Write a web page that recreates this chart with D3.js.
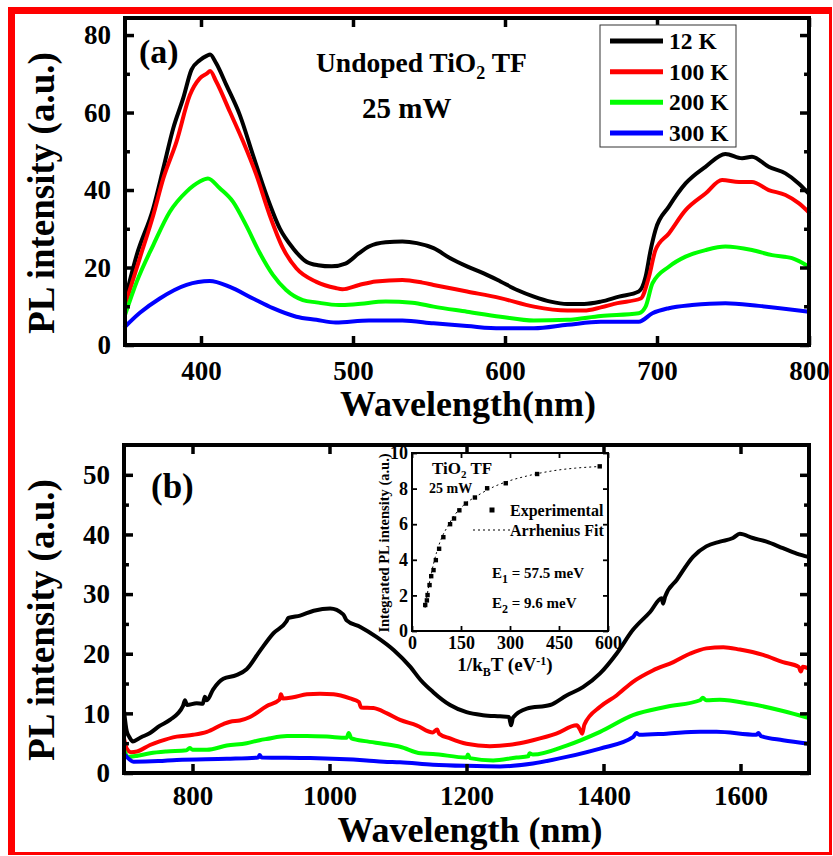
<!DOCTYPE html>
<html><head><meta charset="utf-8">
<script src="https://cdn.jsdelivr.net/npm/d3@7"></script>
<style>
body{margin:0;background:#fff}
text{font-family:"Liberation Serif","Times New Roman",serif;font-weight:bold;fill:#000}
</style>
</head><body>
<svg id="chart" width="833" height="856"></svg>
<script>
// ---------------- DATA ----------------
const seriesNames = ["12 K", "100 K", "200 K", "300 K"];
const seriesColors = ["#000000", "#ff0000", "#00ff00", "#0000ff"];

// Panel (a): [wavelength nm, PL intensity a.u.]
const a12K = [[350,11.6],[357.7,23.2],[368.6,35.3],[375.2,45.6],[381.7,55.9],[388.3,63.7],[393.7,71],[399.2,73.5],[404,74.7],[406,75],[410,72.7],[416.8,67],[425.5,59.4],[434.2,49],[443,38.7],[451.8,30.1],[460.5,25],[469.3,21.5],[477,20.6],[486,20.3],[495,21],[504,23.7],[510.5,25.4],[521.5,26.5],[532.5,26.7],[542,26.3],[553,25],[564,22.4],[575,20.3],[586,18.5],[597,16.4],[608,14.2],[619,12.5],[630,11.2],[641,10.6],[652,10.6],[663,11.2],[675,12.5],[688,13.8],[692.5,17.6],[695.8,24.5],[699,29.7],[707.8,35.7],[718.8,41.7],[731.9,46],[745,49.3],[756,48.2],[762.5,48.6],[773.5,46],[784.5,44.3],[793.2,41.7],[800,39]];
const a100K = [[350,10.3],[359.8,22.5],[368.6,33.5],[375.2,43],[383.9,52.5],[392.7,64.5],[399.2,68.8],[404,70.1],[406,70.7],[410,68],[419,60.2],[427.7,52.5],[436.4,43.9],[445.2,33.5],[453.9,25],[462.7,19.8],[475.9,16.3],[488.6,14.7],[493,14.4],[504,15.5],[515,16.4],[532.5,16.8],[545.7,16.1],[553,15.5],[575,13.8],[597,12.1],[619,9.9],[641,8.9],[652,8.9],[663,9.7],[674,10.8],[689.3,12],[694.7,17.6],[699,24.5],[707.8,28.8],[718.8,34.8],[731.9,39.1],[742.8,42.6],[754,42.1],[762.5,42.1],[773.5,40],[784.5,38.7],[793.2,36.6],[800,34.2]];
const a200K = [[350,7.7],[357.7,16.3],[368.6,25.8],[379.5,34.4],[390.5,39.6],[399.2,42.2],[404.6,43],[412.2,40.5],[421,37],[429.8,30.8],[438.6,23.8],[447.3,18.1],[456,14.2],[467,11.6],[475.9,11],[490.8,10.3],[501.8,10.5],[521.5,11.2],[539,10.9],[553,9.9],[575,8.6],[597,7.3],[619,6.3],[641,6.5],[663,7.5],[688,8.2],[692.5,9.9],[697,15.9],[707.8,20.2],[718.8,22.8],[731.9,24.5],[745,25.4],[762.5,24.5],[775.7,23.2],[788.8,22.4],[800,20.2]];
const a300K = [[350,4.7],[359.8,8.3],[372.9,12.0],[390.5,15.5],[405.7,16.5],[419,15],[434.2,12],[447.3,9.5],[462.7,7.3],[475.9,6.5],[488.6,5.8],[510.5,6.3],[532.5,6.3],[553,5.6],[575,4.9],[597,4.3],[619,4.3],[641,5.2],[663,6],[688,6.0],[697,8.2],[707.8,9.5],[723,10.3],[745,10.8],[767,10.1],[800,8.6]];

// Panel (b)
const b12K = [[700,10.5],[704,7],[708,6],[713,5.3],[725,6],[738,6.7],[752,7.9],[767,8.9],[786,11.2],[789,12.2],[792,11.4],[806,11.7],[815,11.6],[818,12.8],[821,12.2],[830,14.0],[845,15.8],[864,16.4],[879,17.4],[898,20.4],[918,23.4],[937,25.4],[940,26.0],[957,26.4],[977,27.2],[1001,27.6],[1020,26.6],[1025,25.6],[1045,24.5],[1069,22.8],[1094,20.6],[1118,17.8],[1133,15.6],[1151,13.6],[1176,11.4],[1200,10.2],[1224,9.7],[1249,9.5],[1262,9.4],[1265,8.0],[1268,9.3],[1288,10.8],[1322,11.4],[1346,13],[1370,14.4],[1395,16.7],[1419,20],[1443,24],[1468,27],[1485,29.3],[1487,28.4],[1490,29.6],[1507,32.4],[1531,36.3],[1550,38],[1570,38.8],[1589,39.4],[1599,40.1],[1618,39.4],[1638,38.8],[1662,37.7],[1682,36.8],[1700,36.2]];
const b100K = [[700,5.8],[704,4.1],[710,3.5],[719,3.6],[738,4.7],[752,5.3],[777,6.1],[801,6.4],[821,6.9],[845,8.2],[855,8.6],[869,8.8],[884,9.4],[908,11.2],[927,12.3],[929,13.2],[932,12.5],[947,12.7],[967,13.2],[986,13.3],[1006,13.2],[1030,12.5],[1043,11.9],[1046,11.0],[1064,10.9],[1084,10],[1103,8.9],[1127,8],[1151,6.8],[1157,7.3],[1160,6.6],[1176,5.8],[1200,4.9],[1234,4.5],[1273,4.9],[1297,5.5],[1331,6.6],[1361,8],[1366,7.2],[1369,6.6],[1372,8.1],[1395,11.1],[1419,13],[1443,15.3],[1472,17.2],[1502,18.6],[1526,20],[1550,20.9],[1575,21.1],[1599,20.7],[1633,19.8],[1662,18.6],[1685,17.8],[1688,17.0],[1691,17.8],[1700,17.5]];
const b200K = [[700,3.9],[706,2.7],[720,2.9],[738,3.3],[762,3.6],[791,3.8],[796,4.2],[800,3.9],[821,3.9],[850,4.6],[879,5.0],[898,5.5],[908,5.7],[938,6.2],[967,6.2],[996,6.1],[1025,5.9],[1028,6.7],[1032,5.8],[1055,5.3],[1094,4.6],[1103,4.4],[1133,3.3],[1151,3.2],[1200,2.6],[1202,3.1],[1205,2.5],[1239,2.1],[1273,2.6],[1290,2.8],[1292,3.3],[1297,3.1],[1346,4.6],[1395,6.9],[1443,9.7],[1492,11.1],[1541,12.2],[1545,12.6],[1550,12.2],[1570,12.3],[1614,11.6],[1662,10.4],[1700,9.2]];
const b300K = [[700,3.2],[704,2.7],[714,1.9],[750,2.0],[777,2.2],[850,2.4],[896,2.6],[898,3.0],[901,2.6],[972,2.5],[1054,2.1],[1079,1.9],[1103,1.8],[1151,1.4],[1200,1.2],[1249,1.1],[1297,1.6],[1346,2.7],[1395,4.1],[1443,6.0],[1448,6.7],[1452,6.4],[1492,6.6],[1541,6.9],[1565,6.9],[1623,6.4],[1626,6.7],[1630,6.2],[1662,5.5],[1700,4.9]];

// Inset: Integrated PL intensity vs 1/kBT
const insetExpX = [40.5,45.6,47.6,53.7,58.8,65.9,73,83,96,116.6,128.7,145,165,192.6,230,287,383,574.7];
const insetExpY = [1.46,1.72,2.02,2.58,3.08,3.42,3.98,4.62,5.27,6.0,6.32,6.78,7.16,7.5,8.02,8.3,8.82,9.25];
const insetFitX = [40,50,60,75,90,110,130,160,200,250,300,350,400,450,500,585];
const insetFitY = [1.3,2.4,3.3,4.4,5.2,5.9,6.5,7.1,7.6,8.1,8.45,8.7,8.9,9.05,9.15,9.25];

const aTicksX = [400,500,600,700,800];
const aTicksY = [0,20,40,60,80];
const aMinorY = [10,30,50,70];
const bTicksX = [800,1000,1200,1400,1600];
const bTicksY = [0,10,20,30,40,50];
const bMinorY = [5,15,25,35,45];
const inTicksX = [0,150,300,450,600];
const inTicksY = [0,2,4,6,8,10];

// ---------------- DRAW ----------------
const svg = d3.select("#chart");

function panel(cfg){
  const g = svg.append("g");
  const x = d3.scaleLinear().domain(cfg.xd).range([cfg.l, cfg.r]);
  const y = d3.scaleLinear().domain(cfg.yd).range([cfg.b, cfg.t]);
  const line = d3.line().x(d=>x(d[0])).y(d=>y(d[1])).curve(d3.curveMonotoneX);
  cfg.series.forEach((s,i)=>{
    g.append("path").datum(s).attr("d", line).attr("fill","none")
      .attr("stroke", seriesColors[i]).attr("stroke-width", 4)
      .attr("stroke-linejoin","round").attr("stroke-linecap","round");
  });
  const fs = cfg.fs;
  const styleAxis = (sel, sw)=>{ sel.select(".domain").remove(); sel.selectAll("line").attr("stroke","#000").attr("stroke-width", sw); sel.selectAll("text").attr("font-size", fs).attr("font-family", "Liberation Serif").attr("font-weight","bold"); };
  g.append("g").attr("transform",`translate(0,${cfg.b})`)
    .call(d3.axisBottom(x).tickValues(cfg.xt).tickSize(-cfg.tl).tickPadding(cfg.xpad).tickFormat(d3.format("d")))
    .call(s=>styleAxis(s, cfg.tw));
  g.append("g").attr("transform",`translate(0,${cfg.t})`)
    .call(d3.axisTop(x).tickValues(cfg.xt).tickSize(-cfg.tl).tickFormat(""))
    .call(s=>styleAxis(s, cfg.tw));
  g.append("g").attr("transform",`translate(${cfg.l},0)`)
    .call(d3.axisLeft(y).tickValues(cfg.yt).tickSize(-cfg.tl).tickPadding(cfg.ypad).tickFormat(d3.format("d")))
    .call(s=>styleAxis(s, cfg.tw));
  g.append("g").attr("transform",`translate(${cfg.r},0)`)
    .call(d3.axisRight(y).tickValues(cfg.yt).tickSize(-cfg.tl).tickFormat(""))
    .call(s=>styleAxis(s, cfg.tw));
  if (cfg.ym) {
    g.append("g").attr("transform",`translate(${cfg.l},0)`)
      .call(d3.axisLeft(y).tickValues(cfg.ym).tickSize(-cfg.tl*0.55).tickFormat(""))
      .call(s=>styleAxis(s, cfg.tw));
    g.append("g").attr("transform",`translate(${cfg.r},0)`)
      .call(d3.axisRight(y).tickValues(cfg.ym).tickSize(-cfg.tl*0.55).tickFormat(""))
      .call(s=>styleAxis(s, cfg.tw));
  }
  g.append("rect").attr("x",cfg.l).attr("y",cfg.t).attr("width",cfg.r-cfg.l).attr("height",cfg.b-cfg.t)
    .attr("fill","none").attr("stroke","#000").attr("stroke-width",cfg.fw);
  return {g,x,y};
}

// Panel (a)
const pa = panel({xd:[350,800], yd:[0,84.4], l:125, r:809, t:18, b:345,
  series:[a12K,a100K,a200K,a300K], xt:aTicksX, yt:aTicksY, ym:aMinorY,
  fs:27, tl:9, tw:3.5, fw:4, xpad:16, ypad:14});
// Panel (b)
const pb = panel({xd:[700,1700], yd:[0,55], l:124, r:809, t:445, b:773,
  series:[b12K,b100K,b200K,b300K], xt:bTicksX, yt:bTicksY, ym:bMinorY,
  fs:27, tl:9, tw:3.5, fw:4, xpad:13, ypad:14});

// Axis titles
svg.append("text").attr("transform","translate(54,193) rotate(-90)").attr("text-anchor","middle")
  .attr("font-size",37).text("PL intensity (a.u.)");
svg.append("text").attr("transform","translate(54,620) rotate(-90)").attr("text-anchor","middle")
  .attr("font-size",37).text("PL intensity (a.u.)");
svg.append("text").attr("x",468).attr("y",416).attr("text-anchor","middle").attr("font-size",36).text("Wavelength(nm)");
svg.append("text").attr("x",470).attr("y",842).attr("text-anchor","middle").attr("font-size",36).text("Wavelength (nm)");

// Panel labels
svg.append("text").attr("x",139).attr("y",63).attr("font-size",34).text("(a)");
svg.append("text").attr("x",151).attr("y",498).attr("font-size",35).text("(b)");

// Annotations (a)
const t1 = svg.append("text").attr("x",316).attr("y",72).attr("font-size",27.5);
t1.append("tspan").text("Undoped TiO");
t1.append("tspan").attr("font-size",18).attr("dy",7).text("2");
t1.append("tspan").attr("dy",-7).text(" TF");
svg.append("text").attr("x",362).attr("y",118).attr("font-size",29).text("25 mW");

// Legend (a)
const lg = svg.append("g");
lg.append("rect").attr("x",600).attr("y",25).attr("width",136).attr("height",122)
  .attr("fill","#fff").attr("stroke","#333").attr("stroke-width",1);
const legY = d3.scalePoint().domain(seriesNames).range([41,133]);
seriesNames.forEach((n,i)=>{
  lg.append("line").attr("x1",610).attr("x2",663).attr("y1",legY(n)).attr("y2",legY(n))
    .attr("stroke",seriesColors[i]).attr("stroke-width",5);
  lg.append("text").attr("x",669).attr("y",legY(n)+8).attr("font-size",23.5).text(n);
});

// Inset
const ix = d3.scaleLinear().domain([0,600]).range([412,608]);
const iy = d3.scaleLinear().domain([0,10]).range([631,453]);
const ig = svg.append("g");
const fitData = insetFitX.map((v,i)=>[v,insetFitY[i]]);
ig.append("path").datum(fitData).attr("fill","none").attr("stroke","#000").attr("stroke-width",1)
  .attr("stroke-dasharray","2,3")
  .attr("d", d3.line().x(d=>ix(d[0])).y(d=>iy(d[1])).curve(d3.curveMonotoneX));
ig.selectAll("rect.pt").data(insetExpX.map((v,i)=>[v,insetExpY[i]])).enter().append("rect")
  .attr("class","pt").attr("x",d=>ix(d[0])-2.2).attr("y",d=>iy(d[1])-2.2).attr("width",4.4).attr("height",4.4).attr("fill","#000");
const iStyle = s=>{ s.select(".domain").remove(); s.selectAll("line").attr("stroke","#000").attr("stroke-width",1.8); s.selectAll("text").attr("font-size",18).attr("font-family","Liberation Serif").attr("font-weight","bold"); };
ig.append("g").attr("transform","translate(0,631)").call(d3.axisBottom(ix).tickValues(inTicksX).tickSize(-5).tickPadding(5)).call(iStyle);
ig.append("g").attr("transform","translate(0,453)").call(d3.axisTop(ix).tickValues(inTicksX).tickSize(-5).tickFormat("")).call(iStyle);
ig.append("g").attr("transform","translate(412,0)").call(d3.axisLeft(iy).tickValues(inTicksY).tickSize(-5).tickPadding(4)).call(iStyle);
ig.append("g").attr("transform","translate(608,0)").call(d3.axisRight(iy).tickValues(inTicksY).tickSize(-5).tickFormat("")).call(iStyle);
ig.append("rect").attr("x",412).attr("y",453).attr("width",196).attr("height",178).attr("fill","none").attr("stroke","#000").attr("stroke-width",2);

// inset texts
const it1 = ig.append("text").attr("x",432).attr("y",474).attr("font-size",17);
it1.append("tspan").text("TiO");
it1.append("tspan").attr("font-size",11).attr("dy",4).text("2");
it1.append("tspan").attr("dy",-4).text(" TF");
ig.append("text").attr("x",429).attr("y",493).attr("font-size",14).text("25 mW");
ig.append("rect").attr("x",489.5).attr("y",507.5).attr("width",5).attr("height",5).attr("fill","#000");
ig.append("text").attr("x",510).attr("y",516).attr("font-size",16).text("Experimental");
ig.append("line").attr("x1",473).attr("x2",510).attr("y1",530).attr("y2",530).attr("stroke","#000").attr("stroke-width",1).attr("stroke-dasharray","2,3");
ig.append("text").attr("x",510).attr("y",536).attr("font-size",16).text("Arrhenius Fit");
const e1 = ig.append("text").attr("x",492).attr("y",578).attr("font-size",15);
e1.append("tspan").text("E");
e1.append("tspan").attr("font-size",12).attr("dy",5).text("1");
e1.append("tspan").attr("dy",-5).text(" = 57.5 meV");
const e2 = ig.append("text").attr("x",492).attr("y",608).attr("font-size",15);
e2.append("tspan").text("E");
e2.append("tspan").attr("font-size",12).attr("dy",5).text("2");
e2.append("tspan").attr("dy",-5).text(" = 9.6 meV");
// inset axis titles
const ixt = ig.append("text").attr("x",505).attr("y",671).attr("text-anchor","middle").attr("font-size",19);
ixt.append("tspan").text("1/k");
ixt.append("tspan").attr("font-size",12).attr("dy",5).text("B");
ixt.append("tspan").attr("dy",-5).text("T (eV");
ixt.append("tspan").attr("font-size",12).attr("dy",-6).text("-1");
ixt.append("tspan").attr("dy",6).text(")");
ig.append("text").attr("transform","translate(389,543) rotate(-90)").attr("text-anchor","middle")
  .attr("font-size",14.5).text("Integrated PL intensity (a.u.)");

// Red frame
const fr = svg.append("g").attr("fill","#ff0000");
fr.append("rect").attr("x",8).attr("y",7).attr("width",824).attr("height",7);
fr.append("rect").attr("x",8).attr("y",7).attr("width",7).attr("height",848);
fr.append("rect").attr("x",829).attr("y",7).attr("width",3).attr("height",848);
fr.append("rect").attr("x",8).attr("y",852).attr("width",824).attr("height",3);
</script>
</body></html>
